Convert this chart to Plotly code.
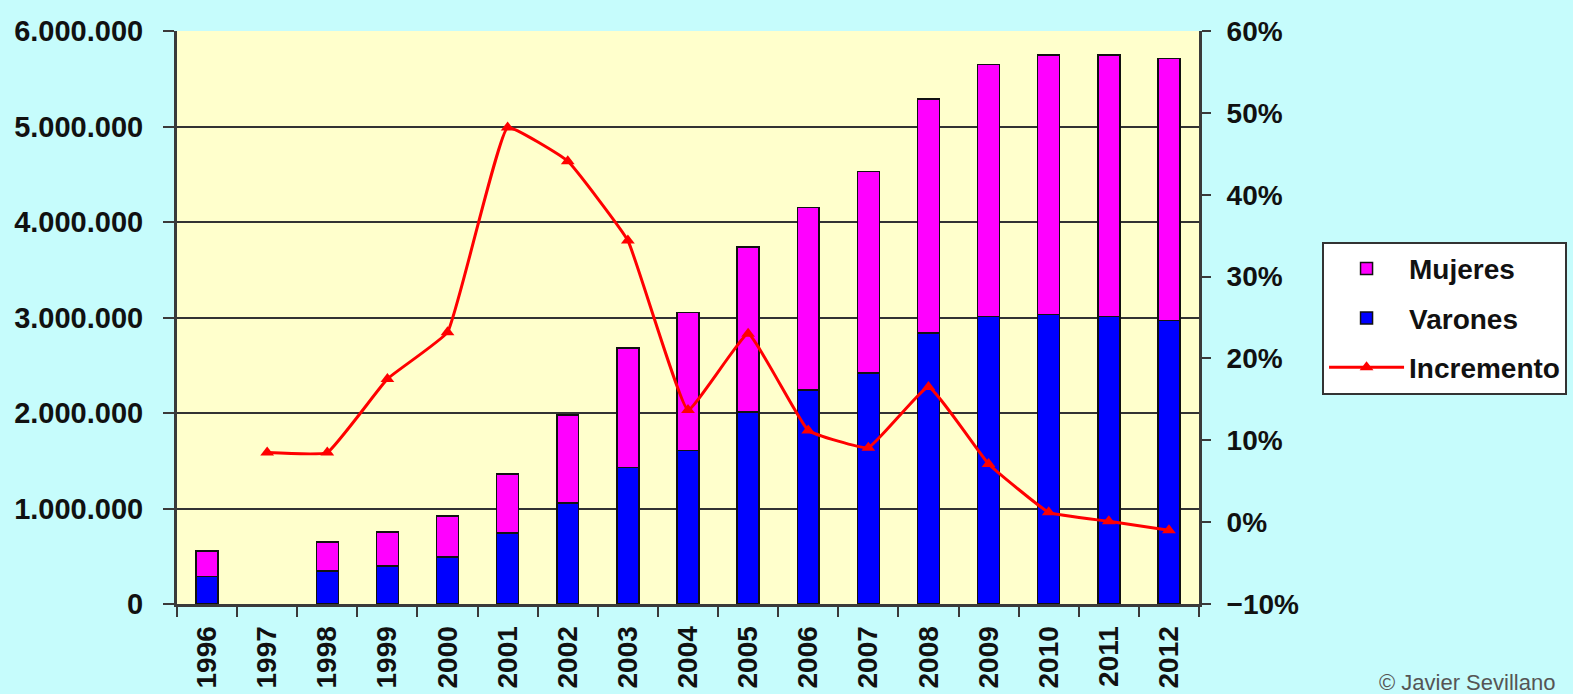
import plotly.graph_objects as go

years = [str(y) for y in range(1996, 2013)]
varones = [290000, None, 345000, 400000, 490000, 745000, 1060000, 1430000, 1610000,
           2010000, 2240000, 2420000, 2840000, 3010000, 3030000, 3010000, 2970000]
mujeres = [265000, None, 305000, 354000, 430000, 615000, 920000, 1250000, 1440000,
           1730000, 1910000, 2110000, 2450000, 2640000, 2720000, 2740000, 2740000]
incremento = [None, 8.5, 8.5, 17.5, 23.2, 48.2, 44.1, 34.4, 13.7,
              23.0, 11.2, 9.1, 16.5, 7.1, 1.2, 0.1, -1.0]

FONT = "Liberation Sans, Arial, sans-serif"
AXIS_COLOR = "#3a3a3a"

fig = go.Figure()
fig.add_trace(go.Bar(
    x=years, y=varones, name="Varones", legendrank=2, legendgroup="v",
    marker=dict(color="#0000FF", line=dict(color="#111111", width=1.5)),
))
fig.add_trace(go.Bar(
    x=years, y=mujeres, name="Mujeres", legendrank=1, legendgroup="m",
    marker=dict(color="#FF00FF", line=dict(color="#111111", width=1.5)),
))
fig.add_trace(go.Scatter(
    x=years, y=incremento, name="Incremento", yaxis="y2", legendrank=3, legendgroup="i",
    mode="lines+markers", line=dict(color="#FF0000", width=3, shape="spline", smoothing=0.3),
    marker=dict(symbol="triangle-up", size=12, color="#FF0000"),
    connectgaps=False,
))

fig.update_layout(
    width=1573, height=694,
    barmode="stack", bargap=0.635,
    paper_bgcolor="#C6FCFC", plot_bgcolor="#FFFFCC",
    separators=",.",
    margin=dict(l=177, r=374, t=31, b=90, autoexpand=False),
    font=dict(family=FONT, color="#111111"),
    showlegend=True,
    legend=dict(
        x=1.1204, y=0.632, xanchor="left", yanchor="top",
        bgcolor="#FFFFFF", bordercolor="#333333", borderwidth=2,
        font=dict(family=FONT, size=28, color="#111111", weight="bold"),
        traceorder="grouped", tracegroupgap=10, itemwidth=75,
    ),
    xaxis=dict(
        type="category", range=[-0.5, 16.5], tickson="boundaries", ticks="outside", ticklen=10,
        tickwidth=2, tickcolor=AXIS_COLOR, tickangle=-90,
        showline=True, linecolor=AXIS_COLOR, linewidth=3,
        showgrid=False,
        tickfont=dict(family=FONT, size=28, color="#111111", weight="bold"),
        ticklabelstandoff=8,
    ),
    yaxis=dict(
        range=[0, 6000000], dtick=1000000, tickformat=",d",
        showgrid=True, gridcolor="#333333", gridwidth=2,
        showline=True, linecolor=AXIS_COLOR, linewidth=3,
        ticks="outside", ticklen=11, tickwidth=2, tickcolor=AXIS_COLOR,
        tickfont=dict(family=FONT, size=29, color="#111111", weight="bold"),
        ticklabelstandoff=14, zeroline=False,
    ),
    yaxis2=dict(
        overlaying="y", side="right", range=[-10, 60], dtick=10, ticksuffix="%",
        showgrid=False, zeroline=False,
        showline=True, linecolor=AXIS_COLOR, linewidth=3,
        ticks="outside", ticklen=9, tickwidth=2, tickcolor=AXIS_COLOR,
        tickfont=dict(family=FONT, size=28, color="#111111", weight="bold"),
        ticklabelstandoff=10,
    ),
)

fig.add_annotation(
    text="© Javier Sevillano", xref="paper", yref="paper",
    x=1.174, y=-0.112, xanchor="left", yanchor="top", showarrow=False,
    font=dict(family=FONT, size=22, color="#555555"),
)

fig.write_html("out.html")
